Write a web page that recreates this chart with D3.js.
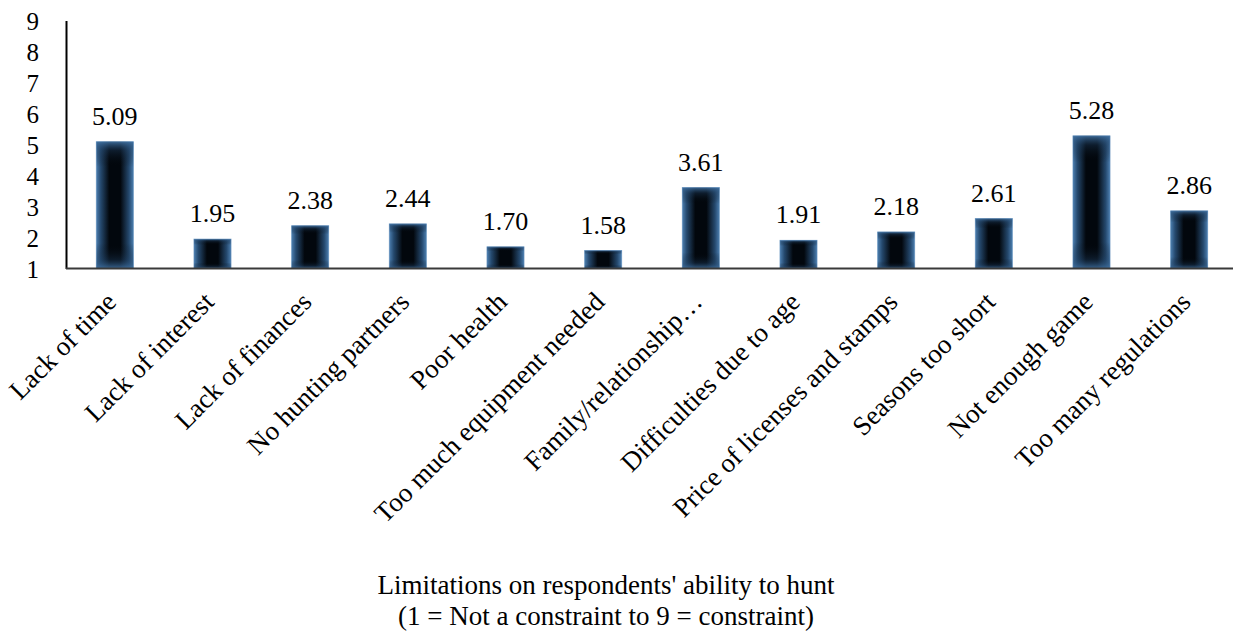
<!DOCTYPE html>
<html>
<head>
<meta charset="utf-8">
<script src="https://cdn.jsdelivr.net/npm/d3@7"></script>
<style>
  html, body { margin: 0; padding: 0; background: #fff; }
  svg text { font-family: "Liberation Serif", "Times New Roman", Times, serif; fill: #000; }
</style>
</head>
<body>
<svg id="chart" width="1241" height="634"></svg>
<script>
// Mean constraint scores per limitation (1 = not a constraint, 9 = constraint)
const categories = [
  "Lack of time", "Lack of interest", "Lack of finances", "No hunting partners",
  "Poor health", "Too much equipment needed", "Family/relationship\u2026",
  "Difficulties due to age", "Price of licenses and stamps", "Seasons too short",
  "Not enough game", "Too many regulations"
];
const scores = [5.09, 1.95, 2.38, 2.44, 1.70, 1.58, 3.61, 1.91, 2.18, 2.61, 5.28, 2.86];
const yTicks = [1, 2, 3, 4, 5, 6, 7, 8, 9];
const titleLines = [
  "Limitations on respondents' ability to hunt",
  "(1 = Not a constraint to 9 = constraint)"
];

const svg = d3.select("#chart");
const plotLeft = 66, plotRight = 1238, plotTop = 20.5, plotBottom = 268.5;

const x = d3.scaleBand().domain(categories).range([plotLeft, plotRight]).paddingInner(0.62).paddingOuter(0.31);
const y = d3.scaleLinear().domain([1, 9]).range([plotBottom, plotTop]);

// Gradients: dark core fading to steel blue at the bar edges
const defs = svg.append("defs");
const gh = defs.append("linearGradient").attr("id", "barH").attr("x1", 0).attr("x2", 1).attr("y1", 0).attr("y2", 0);
[[0, "#4d7fb0"], [0.12, "#25496e"], [0.35, "#02070d"], [0.65, "#02070d"], [0.88, "#25496e"], [1, "#4d7fb0"]]
  .forEach(([o, c]) => gh.append("stop").attr("offset", o).attr("stop-color", c));
const gv = defs.append("linearGradient").attr("id", "barV").attr("x1", 0).attr("x2", 0).attr("y1", 0).attr("y2", 1);
[[0, "#3f6f9f", 0.9], [0.07, "#1e3c5c", 0.4], [0.2, "#000", 0], [0.8, "#000", 0], [0.93, "#1e3c5c", 0.4], [1, "#3f6f9f", 0.9]]
  .forEach(([o, c, a]) => gv.append("stop").attr("offset", o).attr("stop-color", c).attr("stop-opacity", a));

// Bars
const bars = svg.append("g");
const barData = categories.map((c, i) => ({ c, v: scores[i] }));
bars.selectAll("rect.h").data(barData).join("rect")
  .attr("class", "h")
  .attr("x", d => x(d.c)).attr("width", x.bandwidth())
  .attr("y", d => y(d.v)).attr("height", d => y(1) - y(d.v))
  .attr("fill", "url(#barH)");
bars.selectAll("rect.v").data(barData).join("rect")
  .attr("class", "v")
  .attr("x", d => x(d.c)).attr("width", x.bandwidth())
  .attr("y", d => y(d.v)).attr("height", d => y(1) - y(d.v))
  .attr("fill", "url(#barV)")
  .attr("stroke", "#5b8bbb").attr("stroke-width", 0.8).attr("stroke-opacity", 0.7);

// Value labels
svg.append("g").selectAll("text").data(barData).join("text")
  .attr("x", d => x(d.c) + x.bandwidth() / 2)
  .attr("y", d => y(d.v) - 17)
  .attr("text-anchor", "middle")
  .attr("font-size", 26)
  .text(d => d.v.toFixed(2));

// Y axis
const yAxis = svg.append("g").attr("transform", `translate(${plotLeft},0)`)
  .call(d3.axisLeft(y).tickValues(yTicks).tickSize(0).tickPadding(27).tickFormat(d3.format("d")));
yAxis.select(".domain").attr("stroke", "#000").attr("stroke-width", 2);
yAxis.selectAll("text").attr("font-size", 25).attr("dy", "0.34em");

// X baseline and category labels
const xAxis = svg.append("g").attr("transform", `translate(0,${plotBottom})`)
  .call(d3.axisBottom(x).tickSize(0).tickPadding(0));
xAxis.select(".domain").attr("stroke", "#3a3a3a").attr("stroke-width", 2).attr("d", `M${plotLeft},0H1233`);
xAxis.selectAll(".tick text")
  .attr("font-size", 27)
  .attr("text-anchor", "end")
  .attr("dy", 0)
  .attr("transform", "translate(3,35) rotate(-45)");

// Axis title
svg.append("g").selectAll("text").data(titleLines).join("text")
  .attr("x", 606).attr("y", (d, i) => 594 + i * 31)
  .attr("text-anchor", "middle")
  .attr("font-size", 27)
  .text(d => d);
</script>
</body>
</html>
